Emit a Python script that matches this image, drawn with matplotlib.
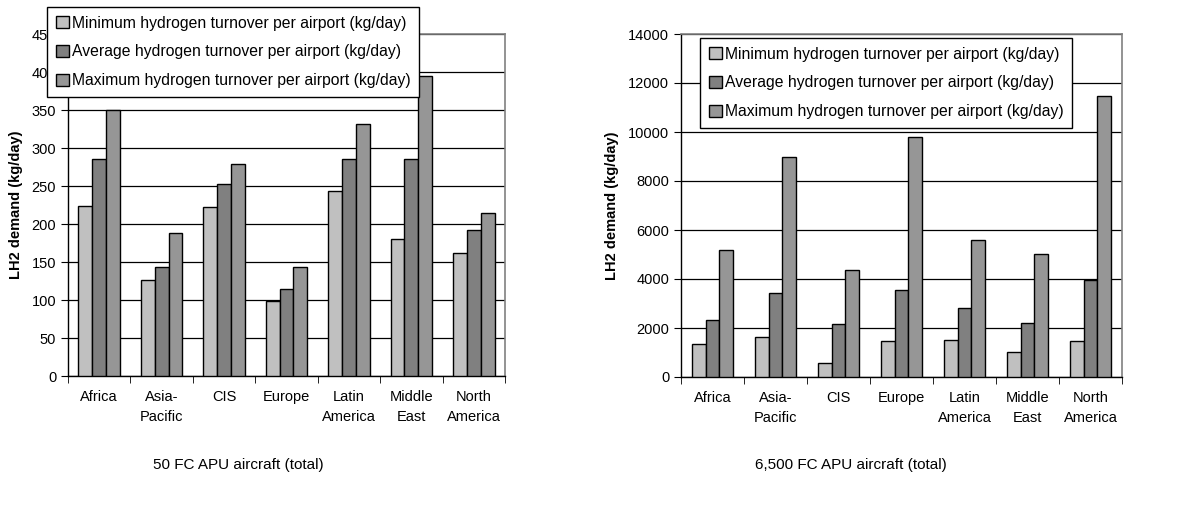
import numpy as np
import matplotlib
matplotlib.use("Agg")
import matplotlib.pyplot as plt

plt.rcParams['font.family'] = ['Liberation Sans', 'DejaVu Sans']

regions = ["Africa", "Asia-\nPacific", "CIS", "Europe", "Latin\nAmerica", "Middle\nEast", "North\nAmerica"]
series_names = ["Minimum hydrogen turnover per airport (kg/day)",
                "Average hydrogen turnover per airport (kg/day)",
                "Maximum hydrogen turnover per airport (kg/day)"]
colors = ["#C0C0C0", "#808080", "#969696"]

# 50 FC APU aircraft
min_50 = [224, 126, 223, 99, 243, 180, 162]
avg_50 = [286, 144, 252, 115, 286, 286, 192]
max_50 = [350, 188, 279, 144, 332, 395, 215]

# 6,500 FC APU aircraft
min_6500 = [1350, 1650, 560, 1470, 1520, 1030, 1460]
avg_6500 = [2330, 3430, 2150, 3550, 2830, 2200, 3970]
max_6500 = [5200, 9000, 4360, 9800, 5580, 5020, 11450]

W, H = 1187, 508
fig = plt.figure(figsize=(W / 100, H / 100), dpi=100)


def draw(rect, data, ymax, ystep, legend_rect, title, title_x, ylabel_x):
    ax = fig.add_axes([rect[0] / W, 1 - rect[3] / H, (rect[2] - rect[0]) / W, (rect[3] - rect[1]) / H])
    x = np.arange(len(regions))
    bw = 0.222
    bars = []
    for i, vals in enumerate(data):
        b = ax.bar(x + (i - 1) * bw, vals, bw, color=colors[i], edgecolor="black",
                   linewidth=1.0, zorder=3)
        bars.append(b)
    ax.set_xlim(-0.5, len(regions) - 0.5)
    ax.set_ylim(0, ymax)
    ax.set_yticks(np.arange(0, ymax + 1, ystep))
    ax.yaxis.grid(True, color="black", linewidth=0.9, zorder=0)
    ax.set_xticks(x)
    ax.set_xticklabels(regions, fontsize=10.5, linespacing=1.6)
    ax.set_xticks(np.arange(-0.5, len(regions), 1.0), minor=True)
    ax.tick_params(axis="x", which="major", length=0, pad=10)
    ax.tick_params(axis="x", which="minor", length=5, direction="out", color="black")
    ax.tick_params(axis="y", length=5, direction="out", labelsize=10.5, color="black")
    for s in ["top", "right"]:
        ax.spines[s].set_color("#808080")
        ax.spines[s].set_linewidth(1.2)
    for s in ["left", "bottom"]:
        ax.spines[s].set_color("black")
        ax.spines[s].set_linewidth(1.0)
    lx0, ly0, lx1, ly1 = legend_rect
    leg = fig.legend(bars, series_names, loc="upper left",
                     bbox_to_anchor=(lx0 / W, 1 - ly0 / H),
                     fontsize=11.3, handlelength=0.85, handleheight=0.85,
                     handletextpad=0.2, labelspacing=0.88, borderpad=0.55,
                     fancybox=False, framealpha=1, edgecolor="black",
                     borderaxespad=0)
    leg.get_frame().set_linewidth(1.0)
    fig.text(ylabel_x / W, 1 - (rect[1] + rect[3]) / 2 / H, "LH2 demand (kg/day)",
             rotation=90, ha="center", va="center", fontsize=10.5, fontweight="bold")
    fig.text(title_x / W, 1 - 465 / H, title, ha="center", va="center", fontsize=11)
    return ax


draw((68, 34, 505, 376), [min_50, avg_50, max_50], 450, 50,
     (47, 7, 414, 99), "50 FC APU aircraft (total)", 238, 16)
draw((681, 34, 1122, 377), [min_6500, avg_6500, max_6500], 14000, 2000,
     (700, 38, 1076, 128), "6,500 FC APU aircraft (total)", 851, 612)

fig.savefig("out.png", dpi=100)
